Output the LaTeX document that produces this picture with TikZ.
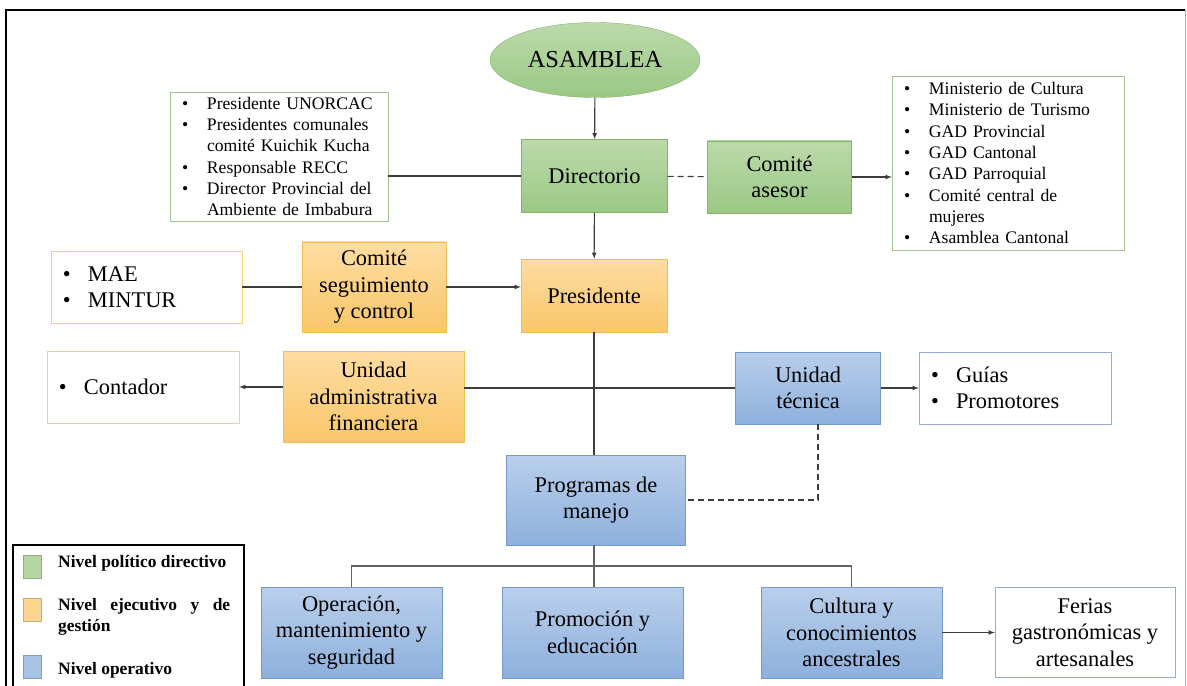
\documentclass[tikz,border=0pt]{standalone}
\usepackage{fontspec}
\setmainfont{Liberation Serif}
\usepackage{tikz}
\usetikzlibrary{shapes.geometric}
\usetikzlibrary{arrows.meta}
\definecolor{gtop}{HTML}{BBDAAB}
\definecolor{gbot}{HTML}{9BC884}
\definecolor{gline}{HTML}{86B36C}
\definecolor{otop}{HTML}{FEDDA2}
\definecolor{obot}{HTML}{F9C66A}
\definecolor{oline}{HTML}{F2BD55}
\definecolor{btop}{HTML}{B9CFEB}
\definecolor{bbot}{HTML}{8EB0DC}
\definecolor{bline}{HTML}{739ACB}
\definecolor{lgreen}{HTML}{A5C290}
\definecolor{lyel}{HTML}{F3D46E}
\definecolor{lblue}{HTML}{94AECB}
\definecolor{lgray}{HTML}{3C3C3C}
\tikzset{
    wh/.style 2 args = {minimum width=#1, minimum height=#2},
    nodeg/.style = {rectangle, draw=gline, top color=gtop, bottom color=gbot, align=center, inner sep=2pt, font=\fontsize{22.5}{26.5}\selectfont},
    nodeo/.style = {rectangle, draw=oline, top color=otop, bottom color=obot, align=center, inner sep=2pt, font=\fontsize{22.5}{26.5}\selectfont},
    nodeb/.style = {rectangle, draw=bline, top color=btop, bottom color=bbot, align=center, inner sep=2pt, font=\fontsize{22.5}{26.5}\selectfont},
    nodeell/.style = {ellipse, draw=gline, top color=gtop, bottom color=gbot, inner sep=0pt, font=\fontsize{24.5}{28}\selectfont},
    lists/.style = {rectangle, draw=#1, fill=white, align=left, inner xsep=12bp, inner ysep=0pt, font=\fontsize{17.7}{21.4}\selectfont},
    listb/.style = {rectangle, draw=#1, fill=white, align=left, inner xsep=12bp, inner ysep=0pt, font=\fontsize{22.5}{26.5}\selectfont},
    key/.style = {rectangle, draw=#1!80!black, fill=#1, minimum width=18bp, minimum height=23bp, inner sep=0pt},
    keytxt/.style = {anchor=west, inner sep=0pt, align=left, font=\bfseries\fontsize{17.5}{21}\selectfont},
    edgen/.style = {-latex, line width=1.1bp, lgray},
    edgel/.style = {line width=1.1bp, lgray},
    edged/.style = {line width=1.1bp, lgray, dash pattern=on 6bp off 4bp}, % dashed
    edget/.style = {line width=1.6bp, lgray!80},
}
\newcommand{\itm}{\makebox[25bp][l]{\textbullet}}
\newcommand{\ind}{\hspace*{25bp}}

\begin{document}
\begin{tikzpicture}[x=1bp, y=-1bp]
\useasboundingbox (0,0) rectangle (1187,686);
\draw[line width=2.5bp] (6,690) -- (6,10) -- (1185,10);
\draw[gray!60, line width=1bp] (1185,10) -- (1185,690);
%
\node[nodeell, wh={210bp}{75bp}] at (595, 60) (asa) {ASAMBLEA};
\node[nodeg, wh={146bp}{73bp}] at (594.5, 176) (dir) {Directorio};
\node[nodeg, wh={144bp}{72bp}] at (779.5, 177) (cas) {Comité\\asesor};
\node[lists=lgreen, text width=194bp, minimum height=129bp] at (279, 156.5) (lis)
  {\itm Presidente UNORCAC\\ \itm Presidentes comunales\\ \ind comité Kuichik Kucha\\
   \itm Responsable RECC\\ \itm Director Provincial del\\ \ind Ambiente de Imbabura};
\node[lists=lgreen, text width=208bp, minimum height=174bp] at (1008, 163) (ril)
  {\itm Ministerio de Cultura\\ \itm Ministerio de Turismo\\ \itm GAD Provincial\\
   \itm GAD Cantonal\\ \itm GAD Parroquial\\ \itm Comité central de\\ \ind mujeres\\
   \itm Asamblea Cantonal};
%
\node[listb=lyel, text width=167bp, minimum height=72bp] at (146.5, 287) (mae) {\itm MAE\\ \itm MINTUR};
\node[nodeo, wh={144bp}{90bp}] at (374, 287) (csc) {Comité\\seguimiento\\y control};
\node[nodeo, wh={146bp}{73bp}] at (594, 295.5) (pre) {Presidente};
\node[listb=lyel, text width=168bp, minimum height=72bp] at (143, 387) (con) {\itm Contador};
\node[nodeo, wh={181bp}{91bp}] at (373.5, 396.5) (uaf) {Unidad\\administrativa\\financiera};
\node[nodeb, wh={145bp}{72bp}] at (808, 388) (ut) {Unidad\\técnica};
\node[listb=lblue, text width=168bp, minimum height=72bp] at (1015, 388) (gui) {\itm Guías\\ \itm Promotores};
%
\node[nodeb, wh={179bp}{90bp}] at (596, 500) (prog) {Programas de\\manejo};
\node[nodeb, wh={181bp}{91bp}] at (351.5, 632.5) (ope) {Operación,\\mantenimiento y\\seguridad};
\node[nodeb, wh={181bp}{91bp}] at (592.5, 632.5) (pro) {Promoción y\\educación};
\node[nodeb, wh={181bp}{91bp}] at (851.5, 632.5) (cul) {Cultura y\\conocimientos\\ancestrales};
\node[rectangle, draw=lblue, fill=white, align=center, wh={180bp}{90bp}, font=\fontsize{22.5}{26.5}\selectfont] at (1085, 632.5) (fer) {Ferias\\gastronómicas y\\artesanales};
\coordinate (bus) at (594, 566);
%
\draw[edgen] (asa) -- (dir);
\draw[edgel] (lis.east |- dir) -- (dir);
\draw[edged] (dir) -- (cas);
\draw[edgen] (cas) -- (cas -| ril.west);
\draw[edgen] (dir) -- (pre);
\draw[edgel] (mae) -- (csc);
\draw[edgen] (csc) -- (csc -| pre.west);
\draw[edgel] (pre) -- (pre |- prog.north);
\draw[edgen] (uaf.west |- con) -- (con);
\draw[edgel] (uaf.east |- ut) -- (ut);
\draw[edgen] (ut) -- (gui);
\draw[edged] ([xshift=10bp]ut.south) |- (prog);
\draw[edget] (pre |- prog.south) -- (pre |- pro.north);
\draw[edget] (ope) |- (bus) -| (cul);
\draw[edgen] (cul) -- (fer);
%
\draw[line width=1.1bp] (13,690) -- (13,545) -- (244,545) -- (244,690);
\node[key=gtop!80!gbot] at (32, 567) (k1) {};
\node[key=otop!70!obot] at (32, 610) (k2) {};
\node[key=btop!60!bbot] at (32, 667) (k3) {};
\node[keytxt] at (58, 563) (t1) {Nivel político directivo};
\node[keytxt] at (58, 616.5) (t2) {\makebox[172bp][s]{Nivel ejecutivo y de}\\gestión};
\node[keytxt] at (58, 670) (t3) {Nivel operativo};
\end{tikzpicture}
\end{document}
